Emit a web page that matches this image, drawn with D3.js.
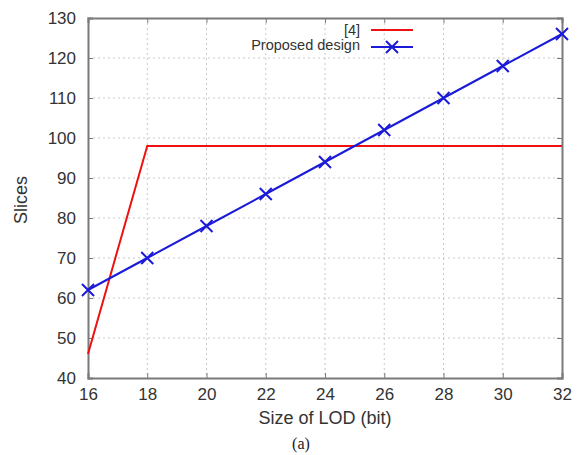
<!DOCTYPE html>
<html>
<head>
<meta charset="utf-8">
<script src="https://cdn.jsdelivr.net/npm/d3@7"></script>
<style>
  html, body { margin: 0; padding: 0; background: #fff; }
  svg { display: block; font-family: "Liberation Sans", Arial, sans-serif; }
</style>
</head>
<body>
<svg id="chart" width="578" height="455"></svg>
<script>
// LOD sizes (bit) on the x axis
const lodSizes = [16, 18, 20, 22, 24, 26, 28, 30, 32];
// Slices used by the reference design [4]
const refSizes = [16, 18, 32];
const refSlices = [46, 98, 98];
// Slices used by the proposed design
const proposedSlices = [62, 70, 78, 86, 94, 102, 110, 118, 126];
// Axis ticks
const xTicks = [16, 18, 20, 22, 24, 26, 28, 30, 32];
const yTicks = [40, 50, 60, 70, 80, 90, 100, 110, 120, 130];

const svg = d3.select("#chart");
const plotLeft = 88, plotRight = 562, plotTop = 18, plotBottom = 378;
const x = d3.scaleLinear().domain([16, 32]).range([plotLeft, plotRight]);
const y = d3.scaleLinear().domain([40, 130]).range([plotBottom, plotTop]);

const axisColor = "#7a7a7a";
const textColor = "#333";

// dotted grid
const grid = svg.append("g");
grid.selectAll("line.v").data(xTicks.slice(1, -1)).join("line")
  .attr("x1", d => x(d)).attr("x2", d => x(d))
  .attr("y1", plotTop).attr("y2", plotBottom)
  .attr("stroke", "#c8c8c8").attr("stroke-width", 1).attr("stroke-dasharray", "2,3");
grid.selectAll("line.h").data(yTicks.slice(1, -1)).join("line")
  .attr("x1", plotLeft).attr("x2", plotRight)
  .attr("y1", d => y(d)).attr("y2", d => y(d))
  .attr("stroke", "#c8c8c8").attr("stroke-width", 1).attr("stroke-dasharray", "2,3");

// axes with inward ticks
const xAxis = svg.append("g").attr("transform", `translate(0,${plotBottom})`)
  .call(d3.axisBottom(x).tickValues(xTicks).tickSize(-5).tickPadding(10));
const xAxisTop = svg.append("g").attr("transform", `translate(0,${plotTop})`)
  .call(d3.axisTop(x).tickValues(xTicks).tickSize(-5).tickFormat(""));
const yAxis = svg.append("g").attr("transform", `translate(${plotLeft},0)`)
  .call(d3.axisLeft(y).tickValues(yTicks).tickSize(-5).tickPadding(12));
const yAxisRight = svg.append("g").attr("transform", `translate(${plotRight},0)`)
  .call(d3.axisRight(y).tickValues(yTicks).tickSize(-5).tickFormat(""));

[xAxis, xAxisTop, yAxis, yAxisRight].forEach(g => {
  g.select(".domain").attr("stroke", axisColor).attr("stroke-width", 2);
  g.selectAll(".tick line").attr("stroke", axisColor).attr("stroke-width", 1);
  g.selectAll("text").attr("fill", textColor).attr("font-size", 17)
    .attr("font-family", "Liberation Sans, Arial, sans-serif");
});

// axis titles
svg.append("text").attr("x", 325).attr("y", 424)
  .attr("text-anchor", "middle").attr("font-size", 18).attr("fill", textColor)
  .text("Size of LOD (bit)");
svg.append("text").attr("transform", `translate(27,${(plotTop + plotBottom) / 2 + 2}) rotate(-90)`)
  .attr("text-anchor", "middle").attr("font-size", 18).attr("fill", textColor)
  .text("Slices");
svg.append("text").attr("x", 301).attr("y", 449)
  .attr("text-anchor", "middle").attr("font-size", 16).attr("fill", "#222")
  .attr("font-family", "Liberation Serif, Times New Roman, serif")
  .text("(a)");

const line = d3.line().x(d => x(d[0])).y(d => y(d[1]));

// [4] series
svg.append("path").datum(d3.zip(refSizes, refSlices))
  .attr("d", line).attr("fill", "none").attr("stroke", "#ee1111").attr("stroke-width", 2);

// proposed design series
const blue = "#1a1ad8";
svg.append("path").datum(d3.zip(lodSizes, proposedSlices))
  .attr("d", line).attr("fill", "none").attr("stroke", blue).attr("stroke-width", 2);

const crossSize = 6;
function cross(g, cx, cy) {
  g.append("path")
    .attr("d", `M${cx - crossSize},${cy - crossSize}L${cx + crossSize},${cy + crossSize}M${cx - crossSize},${cy + crossSize}L${cx + crossSize},${cy - crossSize}`)
    .attr("stroke", blue).attr("stroke-width", 2).attr("fill", "none");
}
const marks = svg.append("g");
d3.zip(lodSizes, proposedSlices).forEach(d => cross(marks, x(d[0]), y(d[1])));

// legend
const legend = svg.append("g");
const lx0 = 371, lx1 = 413;
legend.append("text").attr("x", 360).attr("y", 35).attr("text-anchor", "end")
  .attr("font-size", 14.5).attr("fill", textColor).text("[4]");
legend.append("line").attr("x1", lx0).attr("x2", lx1).attr("y1", 30).attr("y2", 30)
  .attr("stroke", "#ee1111").attr("stroke-width", 2);
legend.append("text").attr("x", 360).attr("y", 50).attr("text-anchor", "end")
  .attr("font-size", 14.5).attr("fill", textColor).text("Proposed design");
legend.append("line").attr("x1", lx0).attr("x2", lx1).attr("y1", 47).attr("y2", 47)
  .attr("stroke", blue).attr("stroke-width", 2);
cross(legend, (lx0 + lx1) / 2, 47);
</script>
</body>
</html>
